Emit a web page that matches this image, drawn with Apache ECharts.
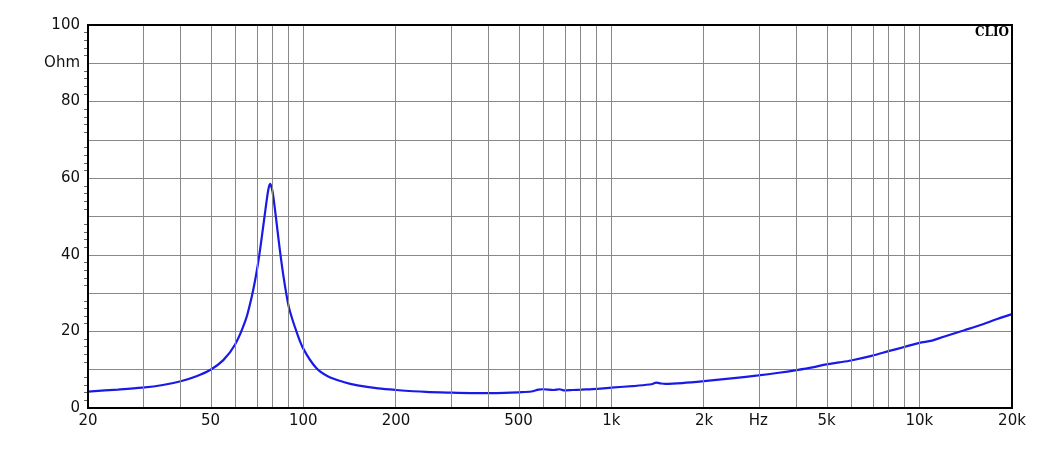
<!DOCTYPE html>
<html><head><meta charset="utf-8">
<script src="https://cdn.jsdelivr.net/npm/echarts@6/dist/echarts.min.js"></script>
<style>html,body{margin:0;background:#fff}#c{width:1057px;height:461px}</style>
</head><body><div id="c"></div>
<script>
const freqs = [20,25,30,35,40,45,50,55,60,65,68,70,72,74,76,77,78,79,80,82,84,86,88,90,95,100,110,120,135,150,175,200,250,300,350,400,450,500,550,580,600,650,680,700,750,800,900,1000,1200,1350,1400,1450,1500,1700,2000,2500,3000,3500,4000,4500,5000,5500,6000,7000,8000,9000,10000,11000,12000,14000,16000,18000,20000];
const ohms  = [4.3,4.8,5.3,6.0,7.0,8.3,10.0,12.5,16.5,23,29,34,40,47,54,57,58.5,57.5,55,48,41,35,30,26,20,15.5,10.5,8.3,6.8,5.9,5.1,4.7,4.2,4.0,3.9,3.9,3.95,4.1,4.3,4.8,4.9,4.7,4.9,4.6,4.7,4.8,5.0,5.3,5.8,6.2,6.6,6.4,6.3,6.5,7.0,7.8,8.5,9.2,9.9,10.6,11.4,11.9,12.4,13.6,14.9,16.0,17.0,17.6,18.6,20.3,21.8,23.3,24.5];
const xTicks = [20,50,100,200,500,1000,2000,3000,5000,10000,20000];
const xTickLabels = ['20','50','100','200','500','1k','2k','Hz','5k','10k','20k'];
const yTicks = [0,20,40,60,80,90,100];
const yTickLabels = ['0','20','40','60','80','Ohm','100'];
const gridFreqs = [30,40,50,60,70,80,90,100,200,300,400,500,600,700,800,900,1000,2000,3000,4000,5000,6000,7000,8000,9000,10000];
const L = Math.log10;
const chart = echarts.init(document.getElementById('c'));
chart.setOption({
  animation:false,
  grid:{left:88,right:45,top:25,bottom:53},
  xAxis:{type:'value',min:L(20),max:L(20000),
    axisLine:{show:true,onZero:false,lineStyle:{color:'#000',width:2}},
    axisTick:{show:false},splitLine:{show:false},
    axisLabel:{customValues:xTicks.map(L),color:'#111',fontSize:15,fontFamily:'DejaVu Sans',margin:6,
      formatter:v=>{const i=xTicks.findIndex(t=>Math.abs(L(t)-v)<1e-6);return i>=0?xTickLabels[i]:'';}}},
  yAxis:{type:'value',min:0,max:100,interval:10,
    axisLine:{show:true,lineStyle:{color:'#000',width:2}},
    axisTick:{show:false},
    minorTick:{show:true,splitNumber:5,length:4,lineStyle:{color:'#666'}},
    splitLine:{lineStyle:{color:'#888',width:1}},
    axisLabel:{customValues:yTicks,color:'#111',fontSize:15,fontFamily:'DejaVu Sans',margin:8,
      formatter:v=>{const i=yTicks.indexOf(v);return i>=0?yTickLabels[i]:'';}}},
  graphic:[
    {type:'rect',shape:{x:88,y:25,width:924,height:383},style:{fill:'none',stroke:'#000',lineWidth:2},z:10},
    {type:'text',right:48,top:27,style:{text:'CLIO',font:'bold 12px "DejaVu Serif"',fill:'#000'},z:11}
  ],
  series:[{type:'line',showSymbol:false,smooth:0.3,
    data:freqs.map((f,i)=>[L(f),ohms[i]]),
    lineStyle:{color:'#1a1ae6',width:2.2},
    markLine:{silent:true,symbol:'none',label:{show:false},
      lineStyle:{color:'#888',width:1,type:'solid'},
      data:gridFreqs.map(f=>({xAxis:L(f)}))}
  }]
});
</script></body></html>
